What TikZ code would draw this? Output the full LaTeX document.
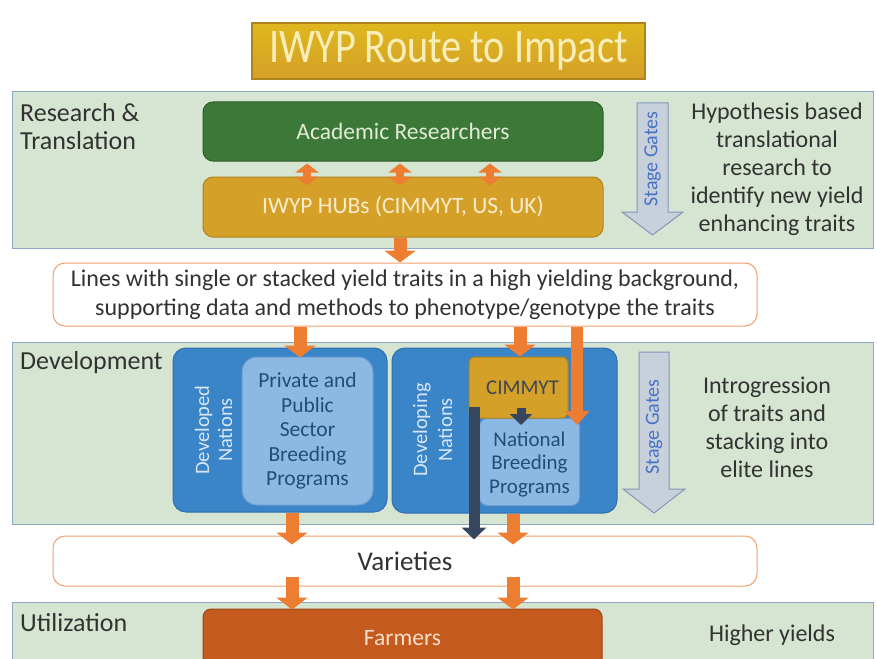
\documentclass[tikz,border=0pt]{standalone}
\usepackage{fontspec}
\setmainfont{Carlito}
\usetikzlibrary{arrows.meta,calc}
\definecolor{panelfill}{RGB}{214,229,209}
\definecolor{panelline}{RGB}{140,165,200}
\definecolor{acadfill}{RGB}{60,120,55}
\definecolor{acadline}{RGB}{45,95,42}
\definecolor{acadtext}{RGB}{225,235,215}
\definecolor{goldfill}{RGB}{212,160,40}
\definecolor{goldline}{RGB}{176,130,30}
\definecolor{goldtext}{RGB}{248,236,205}
\definecolor{orangeA}{RGB}{237,125,49}
\definecolor{linesline}{RGB}{240,160,110}
\definecolor{bluefill}{RGB}{58,132,200}
\definecolor{blueline}{RGB}{45,110,175}
\definecolor{lbluefill}{RGB}{140,185,228}
\definecolor{lblueline}{RGB}{110,155,208}
\definecolor{navytext}{RGB}{31,78,121}
\definecolor{rottext}{RGB}{215,230,245}
\definecolor{navyA}{RGB}{55,70,95}
\definecolor{stagefill}{RGB}{200,208,220}
\definecolor{stageline}{RGB}{130,150,185}
\definecolor{stagetext}{RGB}{70,114,196}
\definecolor{farmfill}{RGB}{197,90,30}
\definecolor{farmline}{RGB}{160,70,25}
\definecolor{farmtext}{RGB}{250,222,200}
\definecolor{bodytext}{RGB}{50,50,50}
\definecolor{cimtext}{RGB}{60,70,85}
\begin{document}
\begin{tikzpicture}[x=1pt,y=-1pt,
  panel/.style={draw=panelline,fill=panelfill,line width=1pt},
  box/.style={rounded corners=10pt,line width=1pt,inner sep=0pt,align=center},
  lbl/.style={text=bodytext,font=\fontsize{26}{28}\selectfont,align=left,anchor=west,inner sep=0pt},
  side/.style={text=bodytext,font=\fontsize{24}{28}\selectfont,align=center,inner sep=0pt},
  oarrow/.style={draw=orangeA,line width=13pt,-{Triangle[width=31pt,length=12pt]}},
  oarrowthin/.style={draw=orangeA,line width=12pt,-{Triangle[width=24pt,length=14pt]}},
  narrow/.style={draw=navyA,line width=11pt,-{Triangle[width=24pt,length=12pt]}},
  darrow/.style={draw=orangeA,line width=8pt,{Triangle[width=23pt,length=9pt]}-{Triangle[width=23pt,length=9pt]}},
  stagebox/.style={fill=stagefill,draw=stageline,line width=1pt},
  stagetxt/.style={text=stagetext,font=\fontsize{20}{22}\selectfont,rotate=90,inner sep=0pt}
]
\useasboundingbox (0,0) rectangle (877,658);
\clip (0,0) rectangle (877,658);
\fill[white] (0,0) rectangle (877,658);

% title
\node[draw=goldline,line width=1.2pt,top color=goldfill!75!yellow,bottom color=goldfill,
  minimum width=393pt,minimum height=56pt,inner sep=0pt,text=goldtext!90!yellow]
  (title) at (448.5,51) {\fontsize{42}{46}\selectfont\scalebox{0.96}[1.15]{IWYP Route to Impact}};

% panels
\draw[panel] (12,92) rectangle (873,248);
\draw[panel] (12,342) rectangle (873,524);
\draw[panel] (12,602) rectangle (873,670);

% panel labels
\node[lbl] (rt) at (20,127) {Research \&\\Translation};
\node[lbl] (dv) at (20,363) {Development};
\node[lbl] (ut) at (20,623) {Utilization};

% research boxes
\node[box,draw=acadline,fill=acadfill,minimum width=400pt,minimum height=59pt,text=acadtext,
  font=\fontsize{23.5}{26}\selectfont] (acad) at (403,131.5) {Academic Researchers};
\node[box,draw=goldline,fill=goldfill,minimum width=400pt,minimum height=60pt,text=goldtext,
  font=\fontsize{23.5}{26}\selectfont] (hubs) at (403,207) {IWYP HUBs (CIMMYT, US, UK)};

% stage gates 1
\draw[stagebox] (637,103) -- (668,103) -- (668,212) -- (683,212) -- (652.5,235) -- (622,212) -- (637,212) -- cycle;
\node[stagetxt] (sg1) at (652.5,159) {Stage Gates};
\node[side] (hyp) at (777,169) {Hypothesis based\\translational\\research to\\identify new yield\\enhancing traits};

% lines box
\node[box,rounded corners=12pt,draw=linesline,fill=white,minimum width=704pt,minimum height=63pt,
  text=bodytext,font=\fontsize{24}{28.5}\selectfont] (lines) at (405,294.5)
  {Lines with single or stacked yield traits in a high yielding background,\\supporting data and methods to phenotype/genotype the traits};

% development
\node[box,rounded corners=13pt,draw=blueline,fill=bluefill,minimum width=214pt,minimum height=164pt] (devd) at (280,430) {};
\node[box,rounded corners=15pt,draw=lblueline,fill=lbluefill,minimum width=131pt,minimum height=148pt,
  text=navytext,font=\fontsize{21.5}{24.5}\selectfont] (privt) at (307.5,431) {Private and\\Public\\Sector\\Breeding\\Programs};
\node[rotate=90,text=rottext,font=\fontsize{20.5}{23}\selectfont,align=center,inner sep=0pt] (devdl) at (213.5,430) {Developed\\Nations};

\node[box,rounded corners=13pt,draw=blueline,fill=bluefill,minimum width=225pt,minimum height=165pt] (devg) at (504.5,430.5) {};
\node[rotate=90,text=rottext,font=\fontsize{20.5}{25}\selectfont,align=center,inner sep=0pt] (devgl) at (432.5,430) {Developing\\Nations};
\node[box,rounded corners=8pt,draw=lblueline,fill=lbluefill,minimum width=100pt,minimum height=87pt,
  text=navytext,font=\fontsize{21}{23.5}\selectfont] (natl) at (529.5,462) {\\[-4pt]National\\Breeding\\Programs};
\node[box,rounded corners=6pt,draw=goldline,fill=goldfill,minimum width=99pt,minimum height=61pt,
  text=cimtext,font=\fontsize{21}{23}\selectfont] (cim) at (518.5,387.5) {\hspace{8pt}CIMMYT};

% stage gates 2
\draw[stagebox] (639,352) -- (669,352) -- (669,489) -- (685,489) -- (654,513) -- (623,489) -- (639,489) -- cycle;
\node[stagetxt] (sg2) at (654,427) {Stage Gates};
\node[side] (intro) at (767,427) {Introgression\\of traits and\\stacking into\\elite lines};

% varieties
\node[box,rounded corners=12pt,draw=linesline,fill=white,minimum width=704pt,minimum height=50pt,
  text=bodytext,font=\fontsize{27}{30}\selectfont] (vars) at (405,561) {Varieties};

% farmers
\node[box,rounded corners=8pt,draw=farmline,fill=farmfill,minimum width=399pt,minimum height=60pt,
  text=farmtext,font=\fontsize{23.5}{26}\selectfont] (farm) at (402.5,639) {\raisebox{3pt}{Farmers}};
\node[side] (hy) at (772,635) {Higher yields};

% arrow x positions
\coordinate (xa) at (307,0);
\coordinate (xb) at (400,0);
\coordinate (xc) at (490,0);
\coordinate (xp) at (300,0);
\coordinate (xq) at (520,0);
\coordinate (xr) at (577,0);
\coordinate (xs) at (292,0);
\coordinate (xt) at (513,0);
\coordinate (xn) at (474,0);
\coordinate (xm) at (521,0);

% double arrows
\draw[darrow] ([yshift=-2pt]acad.south -| xa) -- ([yshift=-9pt]hubs.north -| xa);
\draw[darrow] ([yshift=-2pt]acad.south -| xb) -- ([yshift=-9pt]hubs.north -| xb);
\draw[darrow] ([yshift=-2pt]acad.south -| xc) -- ([yshift=-9pt]hubs.north -| xc);

% orange arrows
\draw[oarrow] (hubs.south -| xb) -- (lines.north -| xb);
\draw[oarrow] (lines.south -| xp) -- ([yshift=-1pt]privt.north -| xp);
\draw[oarrow] (lines.south -| xq) -- ([yshift=-0pt]cim.north -| xq);
\draw[oarrowthin] (lines.south -| xr) -- ([yshift=-7pt]natl.north -| xr);
\draw[oarrow] (devd.south -| xs) -- ([yshift=-9pt]vars.north -| xs);
\draw[oarrow] (devg.south -| xt) -- ([yshift=-9pt]vars.north -| xt);
\draw[oarrow] ([yshift=10pt]vars.south -| xs) -- ([yshift=-1pt]farm.north -| xs);
\draw[oarrow] ([yshift=10pt]vars.south -| xt) -- ([yshift=-1pt]farm.north -| xt);

% navy arrows
\draw[narrow,line width=9pt,-{Triangle[width=22pt,length=11pt]}] ([yshift=11pt]cim.south -| xm) -- ([yshift=-7pt]natl.north -| xm);
\draw[narrow] ([yshift=12pt]cim.south -| xn) -- ([yshift=-4pt]vars.north -| xn);
\end{tikzpicture}
\end{document}
